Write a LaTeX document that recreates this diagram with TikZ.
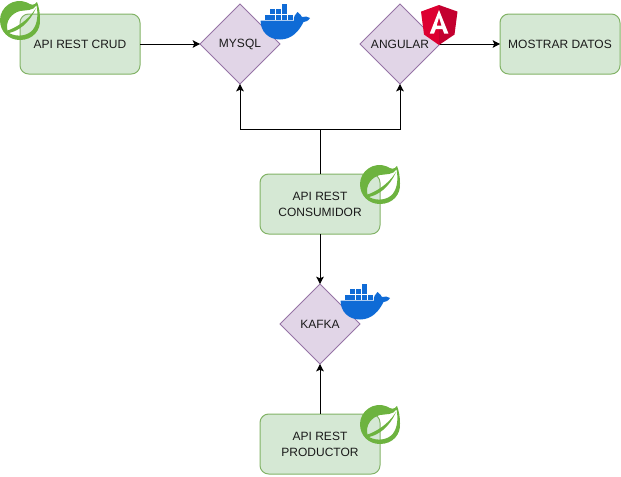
\documentclass[tikz,border=0pt]{standalone}
\usepackage{fontspec}
\setmainfont{Liberation Sans}
\usetikzlibrary{shapes.geometric,arrows.meta,positioning}
\definecolor{boxfill}{HTML}{D5E8D4}
\definecolor{boxline}{HTML}{82B366}
\definecolor{diafill}{HTML}{E1D5E7}
\definecolor{dialine}{HTML}{9673A6}
\definecolor{springgreen}{HTML}{6DB33F}
\definecolor{dockerblue}{HTML}{0F6BD6}
\definecolor{angred}{HTML}{DD0031}
\definecolor{angdark}{HTML}{C3002F}
\definecolor{textgray}{HTML}{1A1A1A}
\tikzset
{
    greenbox/.style = {rectangle, rounded corners=6.5pt, draw=boxline, fill=boxfill, align=center, text=textgray, font=\fontsize{9}{12}\selectfont, minimum width=90pt, minimum height=45pt, inner sep=0pt, outer sep=0pt, line width=0.75pt},
    diabox/.style   = {diamond, draw=dialine, fill=diafill, align=center, text=textgray, font=\fontsize{9}{12}\selectfont, minimum width=60pt, minimum height=60pt, inner sep=0pt, outer sep=0pt, line width=0.75pt},
    springlogo/.pic = {
        \fill[springgreen, even odd rule] (37,2) .. controls (34,6) and (31,5) .. (27,2.5) .. controls (14,-3) and (0,7) .. (0,20) .. controls (0,32) and (9,40) .. (20,40) .. controls (33,40) and (41,30) .. (40,19) .. controls (40,13) and (39,7) .. (37,2) -- cycle
        (36.5,5.5) .. controls (33,11) and (26,10) .. (20,11) .. controls (12,13) and (5,21) .. (7.5,30.5) .. controls (15,28) and (28,21) .. (36,8) .. controls (29,24) and (18,31) .. (9,33) .. controls (17,37.5) and (28,36) .. (33,29.5) .. controls (38,23) and (38,13) .. (36.5,5.5) -- cycle;
    },
    dockerlogo/.pic = {
        \fill[dockerblue] (0.6,16.6) -- (34,16.6) .. controls (33.5,13) and (35,10) .. (37.5,8) .. controls (40,10) and (41,11) .. (42,13) .. controls (45,12) and (48,12.5) .. (50,14) .. controls (48,17) and (46,18) .. (43.5,18) .. controls (39,27) and (32,35.5) .. (20,35.5) .. controls (9,35.5) and (0.5,28) .. (0.6,16.6) -- cycle;
        \foreach \cx/\cy in {22/0, 10/5.4, 16/5.4, 22/5.4, 4.6/11, 10/11, 16/11, 22/11, 28/11}
            \fill[dockerblue] (\cx,\cy) rectangle ++(5.4,5);
    },
    angularlogo/.pic = {
        \fill[angred] (18,0) -- (0,6.6) -- (3,29.5) -- (18,40) -- cycle;
        \fill[angdark] (18,0) -- (36.5,6.6) -- (33.5,29.5) -- (18,40) -- cycle;
        \fill[white, even odd rule] (18,5) -- (8.8,28.5) -- (13,28.5) -- (14.8,24) -- (21.4,24) -- (23.2,28.5) -- (27.4,28.5) -- cycle
            (18,12.5) -- (20.5,20.5) -- (15.7,20.5) -- cycle;
    }
}

\begin{document}
\begin{tikzpicture}[x=0.75pt,y=-0.75pt,->,>={Stealth[length=5.5pt,width=5.7pt,inset=1.2pt]},line width=0.75pt]
\useasboundingbox (0,0) rectangle (621,476);
\node [greenbox] at (80,44) (crud) {API REST CRUD};
\node [diabox] at (240,44) (mysql) {MYSQL};
\node [diabox] at (400,44) (angular) {ANGULAR};
\node [greenbox] at (560,44) (mostrar) {MOSTRAR DATOS};
\node [greenbox] at (320,204) (consumidor) {API REST\\CONSUMIDOR};
\node [diabox] at (320,324) (kafka) {KAFKA};
\node [greenbox] at (320,444) (productor) {API REST\\PRODUCTOR};
\draw (crud) -- (mysql);
\draw (angular) -- (mostrar);
\draw (consumidor.north) |- (240,129) -- (mysql.south);
\draw (consumidor.north) |- (400,129) -- (angular.south);
\draw (consumidor) -- (kafka);
\draw (productor) -- (kafka);
\pic at (0,0) {springlogo};
\pic at (360,164) {springlogo};
\pic at (360,404) {springlogo};
\pic at (260,4) {dockerlogo};
\pic at (340,284) {dockerlogo};
\pic at (421,5) {angularlogo};
\end{tikzpicture}
\end{document}
